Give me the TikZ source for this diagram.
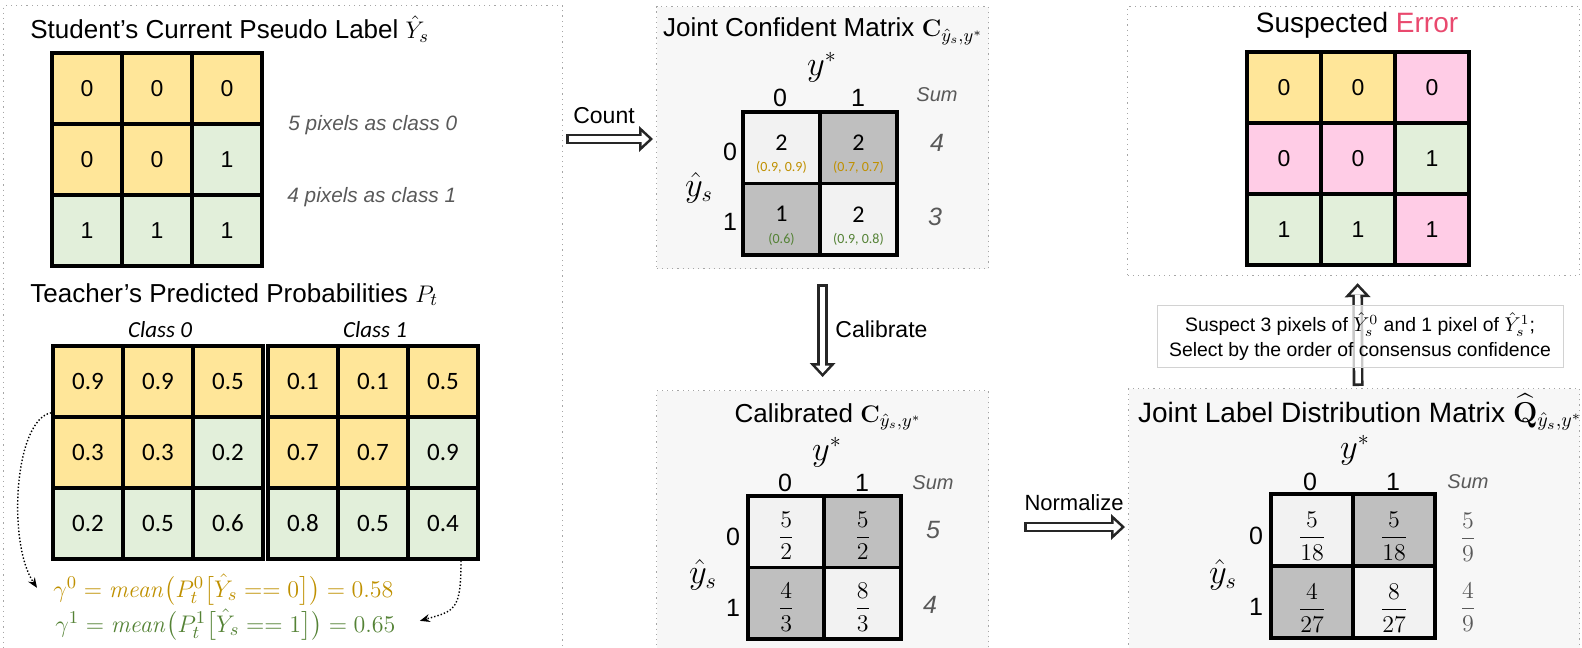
\documentclass[tikz,border=0pt]{standalone}
\usepackage{amsmath}
\usepackage[no-math]{fontspec}
\setmainfont{Liberation Sans}
\newfontfamily\carlito{Carlito}
\usetikzlibrary{arrows.meta,positioning}

\definecolor{yelcell}{HTML}{FFE699}
\definecolor{grncell}{HTML}{E2EFDA}
\definecolor{pnkcell}{HTML}{FFCCE6}
\definecolor{lgtcell}{HTML}{F2F2F2}
\definecolor{drkcell}{HTML}{BFBFBF}
\definecolor{goldtxt}{HTML}{BF9000}
\definecolor{grntxt}{HTML}{548235}
\definecolor{errred}{HTML}{E9496E}
\definecolor{sumgray}{HTML}{595959}
\definecolor{panelbg}{HTML}{F7F7F7}

\tikzset{
  panel/.style={draw=gray!70, dotted, line width=0.6pt, inner sep=0pt},
  cell/.style={draw=black, line width=1.8pt, inner sep=0pt, minimum width=35pt, minimum height=35.5pt,
    font=\fontsize{11.5}{13}\selectfont},
  pcell/.style={cell, font=\carlito\fontsize{12.5}{14}\selectfont},
  mcell/.style={draw=black, line width=1.8pt, inner sep=0pt, minimum width=38.5pt, minimum height=35.75pt},
  title/.style={font=\fontsize{13}{15}\selectfont, inner sep=0pt},
  bigtitle/.style={font=\fontsize{14}{16}\selectfont, inner sep=0pt},
  axis/.style={font=\fontsize{12.5}{14}\selectfont, inner sep=0pt},
  varlab/.style={font=\fontsize{16}{18}\selectfont, inner sep=0pt},
  sumlab/.style={font=\fontsize{10}{12}\selectfont\itshape, text=sumgray, inner sep=0pt},
  sumval/.style={font=\fontsize{12.5}{14}\selectfont\itshape, text=sumgray, inner sep=0pt},
  note/.style={font=\fontsize{10.4}{12}\selectfont\itshape, text=sumgray, inner sep=0pt},
  classlab/.style={font=\carlito\fontsize{11.5}{13}\selectfont\itshape, inner sep=0pt},
  cnt/.style={font=\carlito\fontsize{12}{14}\selectfont, inner sep=0pt},
  pair/.style={font=\carlito\fontsize{7}{8}\selectfont, inner sep=0pt},
  frac/.style={font=\fontsize{11.5}{13}\selectfont, inner sep=0pt},
  formula/.style={font=\fontsize{13}{15}\selectfont, inner sep=0pt},
  steplab/.style={font=\fontsize{11.5}{13}\selectfont, inner sep=0pt},
  bigarrow/.style={draw=black!85, line width=5.4pt, -{Triangle[length=7pt,width=13pt,line width=0pt]},
    postaction={draw=white, line width=2.8pt, shorten <=1.3pt, shorten >=1.9pt,
      -{Triangle[length=3.8pt,width=7pt,line width=0pt]}}},
  dotarrow/.style={densely dotted, line width=0.7pt, -{Stealth[length=5pt,width=4pt]}},
}

\begin{document}
\begin{tikzpicture}[x=0.5pt,y=-0.5pt]
  \path[use as bounding box, clip] (0,0) rectangle (1582,647);

  % panels
  \node[panel, anchor=north west, minimum width=279.5pt, minimum height=350pt] (stud) at (3,5) {};
  \node[panel, fill=panelbg, anchor=north west, minimum width=166pt, minimum height=131pt] (jcm) at (656,6) {};
  \node[panel, fill=panelbg, anchor=north west, minimum width=166pt, minimum height=160pt] (cal) at (656,390) {};
  \node[panel, anchor=north west, minimum width=226pt, minimum height=134.5pt] (serr) at (1127,6) {};
  \node[panel, fill=panelbg, anchor=north west, minimum width=225.5pt, minimum height=160pt] (qm) at (1128,388) {};

  % student pseudo label
  \node[title, anchor=base west] (studtitle) at (30,39) {Student’s Current Pseudo Label $\hat{Y}_s$};
  \foreach \row [count=\r] in {{0/yelcell,0/yelcell,0/yelcell},{0/yelcell,0/yelcell,1/grncell},{1/grncell,1/grncell,1/grncell}} {
    \foreach \v/\c [count=\q] in \row
      \node[cell, fill=\c] (pl-\r-\q) at ({17+70*\q},{17.5+71*\r}) {\v};
  }
  \node[note, anchor=base west] (note0) at (288,130) {5 pixels as class 0};
  \node[note, anchor=base west] (note1) at (287,202) {4 pixels as class 1};

  % teacher probabilities
  \node[title, anchor=base west] (teachtitle) at (30,302) {Teacher’s Predicted Probabilities $P_t$};
  \node[classlab, anchor=base] (cls0) at (160,337) {Class 0};
  \node[classlab, anchor=base] (cls1) at (375,337) {Class 1};
  \foreach \row [count=\r] in {{0.9/yelcell,0.9/yelcell,0.5/yelcell},{0.3/yelcell,0.3/yelcell,0.2/grncell},{0.2/grncell,0.5/grncell,0.6/grncell}} {
    \foreach \v/\c [count=\q] in \row
      \node[pcell, fill=\c] (pa-\r-\q) at ({18+70*\q},{310.5+71*\r}) {\v};
  }
  \foreach \row [count=\r] in {{0.1/yelcell,0.1/yelcell,0.5/yelcell},{0.7/yelcell,0.7/yelcell,0.9/grncell},{0.8/grncell,0.5/grncell,0.4/grncell}} {
    \foreach \v/\c [count=\q] in \row
      \node[pcell, fill=\c] (pb-\r-\q) at ({233+70*\q},{310.5+71*\r}) {\v};
  }
  \node[formula, text=goldtxt, anchor=base west] (gam0) at (53,597)
    {$\gamma^0 = \mathit{mean}\big(P_t^0\big[\hat{Y}_s == 0\big]\big) = 0.58$};
  \node[formula, text=grntxt, anchor=base west] (gam1) at (55,632)
    {$\gamma^1 = \mathit{mean}\big(P_t^1\big[\hat{Y}_s == 1\big]\big) = 0.65$};
  \draw[dotarrow] ([yshift=3pt]pa-1-1.south west) .. controls +(-37,7) and +(-30,-45) .. ([xshift=-8pt,yshift=1pt]gam0.west);
  \draw[dotarrow] ([xshift=9pt]pb-3-3.south) .. controls +(0,50) and +(35,-10) .. ([xshift=12pt,yshift=2pt]gam1.east);

  % joint confident matrix
  \node[title, anchor=base] (jctitle) at (823,37) {Joint Confident Matrix $\mathbf{C}_{\hat{y}_s,y^*}$};
  \node[varlab] (jc-ystar) at (822,67) {$y^*$};
  \node[varlab] (jc-yhat) at (699,188) {$\hat{y}_s$};
  \node[axis] (jc-c0) at (780,98) {0};
  \node[axis] (jc-c1) at (858,98) {1};
  \node[axis] (jc-r0) at (730,152) {0};
  \node[axis] (jc-r1) at (730,222) {1};
  \foreach \r/\q/\n/\pr/\f/\t in {1/1/2/{(0.9, 0.9)}/lgtcell/goldtxt, 1/2/2/{(0.7, 0.7)}/drkcell/goldtxt,
      2/1/1/{(0.6)}/drkcell/grntxt, 2/2/2/{(0.9, 0.8)}/lgtcell/grntxt} {
    \node[mcell, fill=\f] (jc-\r-\q) at ({704.5+77*\q},{76.25+71.5*\r}) {};
    \node[cnt] (jc-n-\r-\q) at ([yshift=2.5pt]jc-\r-\q.center) {\n};
    \node[pair, text=\t] (jc-p-\r-\q) at ([yshift=-10pt]jc-\r-\q.center) {\pr};
  }
  \node[sumlab] (jc-sum) at (937,95) {Sum};
  \node[sumval] (jc-s0) at (937,143) {4};
  \node[sumval] (jc-s1) at (935,217) {3};

  % calibrated matrix
  \node[title, anchor=base] (caltitle) at (828,422) {Calibrated $\mathbf{C}_{\hat{y}_s,y^*}$};
  \node[varlab] (cal-ystar) at (827,452) {$y^*$};
  \node[varlab] (cal-yhat) at (703,575) {$\hat{y}_s$};
  \node[axis] (cal-c0) at (785,483) {0};
  \node[axis] (cal-c1) at (862,483) {1};
  \node[axis] (cal-r0) at (733,537) {0};
  \node[axis] (cal-r1) at (733,608) {1};
  \foreach \r/\q/\a/\b/\f in {1/1/5/2/lgtcell, 1/2/5/2/drkcell, 2/1/4/3/drkcell, 2/2/8/3/lgtcell} {
    \node[mcell, fill=\f] (cal-\r-\q) at ({709.75+76.5*\q},{460.25+71.5*\r}) {};
    \node[frac] (cal-v-\r-\q) at ([yshift=-2pt]cal-\r-\q.center) {$\dfrac{\a}{\b}$};
  }
  \node[sumlab] (cal-sum) at (933,483) {Sum};
  \node[sumval] (cal-s0) at (933,530) {5};
  \node[sumval] (cal-s1) at (930,605) {4};

  % joint label distribution matrix
  \node[bigtitle, anchor=base] (qtitle) at (1360,422) {Joint Label Distribution Matrix $\widehat{\mathbf{Q}}_{\hat{y}_s,y^*}$};
  \node[varlab] (q-ystar) at (1355,450) {$y^*$};
  \node[varlab] (q-yhat) at (1223,575) {$\hat{y}_s$};
  \node[axis] (q-c0) at (1310,482) {0};
  \node[axis] (q-c1) at (1393,482) {1};
  \node[axis] (q-r0) at (1256,536) {0};
  \node[axis] (q-r1) at (1256,607) {1};
  \foreach \r/\q/\a/\b/\f in {1/1/5/18/lgtcell, 1/2/5/18/drkcell, 2/1/4/27/drkcell, 2/2/8/27/lgtcell} {
    \node[mcell, fill=\f, minimum width=41pt, minimum height=36pt] (q-\r-\q) at ({1230+82*\q},{458+72*\r}) {};
    \node[frac] (q-v-\r-\q) at ([yshift=-3pt]q-\r-\q.center) {$\dfrac{\a}{\b}$};
  }
  \node[sumlab] (q-sum) at (1468,482) {Sum};
  \node[frac, text=sumgray] (q-s0) at (1468,537) {$\dfrac{5}{9}$};
  \node[frac, text=sumgray] (q-s1) at (1468,607) {$\dfrac{4}{9}$};

  % suspected error
  \node[bigtitle, anchor=base] (setitle) at (1357,33) {Suspected {\color{errred}Error}};
  \foreach \row [count=\r] in {{0/yelcell,0/yelcell,0/pnkcell},{0/pnkcell,0/pnkcell,1/grncell},{1/grncell,1/grncell,1/pnkcell}} {
    \foreach \v/\c [count=\q] in \row
      \node[cell, fill=\c, minimum width=37pt] (se-\r-\q) at ({1210+74*\q},{16.5+71*\r}) {\v};
  }

  % steps
  \draw[bigarrow] ([xshift=1.5pt,yshift=-67pt]stud.north east) -- ([xshift=-1.5pt,yshift=-66.5pt]jcm.north west);
  \node[steplab, anchor=base] (countlab) at (604,123) {Count};
  \draw[bigarrow] ([yshift=-7.5pt]jcm.south) -- ([yshift=6.5pt]cal.north);
  \node[steplab, anchor=base west] (callab) at (835,337) {Calibrate};
  \draw[bigarrow] ([xshift=17.5pt,yshift=-68.5pt]cal.north east) -- ([xshift=-1.5pt,yshift=-69.5pt]qm.north west);
  \node[steplab, font=\fontsize{11}{13}\selectfont, anchor=base] (normlab) at (1074,510) {Normalize};
  \draw[bigarrow] ([xshift=2pt,yshift=1pt]qm.north) -- ([xshift=2pt,yshift=-3.5pt]serr.south);
  \node[draw=gray!35, fill=white, fill opacity=0.75, text opacity=1, minimum width=203pt, minimum height=28.5pt,
    align=center, font=\fontsize{9.7}{12.5}\selectfont] (susp) at (1360,336.5)
    {Suspect 3 pixels of $\hat{Y}_s^0$ and 1 pixel of $\hat{Y}_s^1$;\\Select by the order of consensus confidence};
\end{tikzpicture}
\end{document}
